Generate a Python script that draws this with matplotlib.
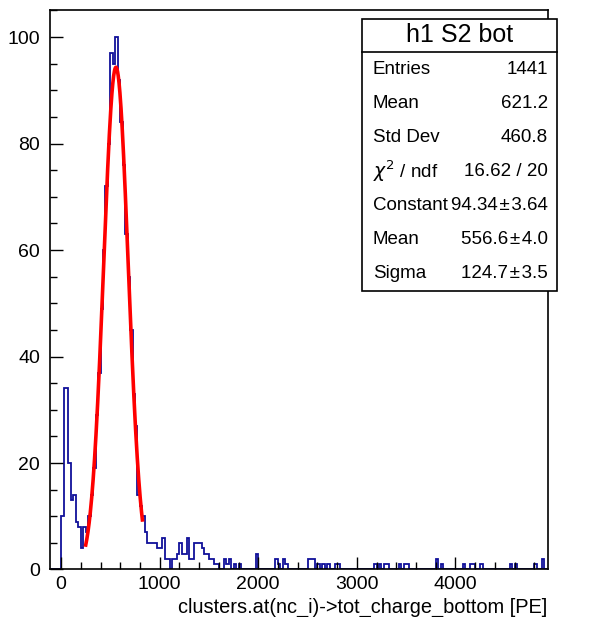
import numpy as np
import matplotlib
matplotlib.use("Agg")
import matplotlib.pyplot as plt
from matplotlib.ticker import MultipleLocator

plt.rcParams['font.family'] = ['Liberation Sans', 'DejaVu Sans']

# histogram h1: 25 PE bins, main part from 0 to 1800 PE (entries per bin)
core_start = 0
core_counts = [10, 34, 34, 20, 13, 14, 9, 8, 4, 8,        # 0 .. 225
               7, 10, 14, 19, 29, 37, 49, 60, 72, 80,     # 250 .. 475
               97, 95, 100, 92, 84, 76, 63, 55, 45, 33,   # 500 .. 725
               27, 14, 12, 10, 7, 5, 5, 5, 5, 4,          # 750 .. 975
               4, 6, 2, 2, 0, 2, 2, 3, 5, 3,              # 1000 .. 1225
               3, 6, 2, 2, 5, 5, 5, 4, 3, 3,              # 1250 .. 1475
               2, 2, 1, 1, 0, 0, 2, 1, 2, 0,              # 1500 .. 1725
               1, 0, 1]                                   # 1750 .. 1800
# sparse tail: left edge of each non-empty bin and its entries
tail_left = [1975, 2175, 2200, 2250, 2275,
             2500, 2525, 2550, 2600, 2650, 2700, 2775, 2800,
             3175, 3225, 3275, 3300, 3425, 3475, 3500,
             3800, 3850, 4075, 4150, 4175, 4250, 4550, 4600, 4800, 4875]
tail_counts = [3, 2, 1, 2, 1,
               2, 2, 2, 1, 1, 1, 1, 1,
               1, 1, 1, 1, 1, 1, 1,
               2, 1, 1, 1, 1, 1, 1, 1, 1, 2]

# gaussian fit result
fit_const = 94.34
fit_mean = 556.6
fit_sigma = 124.7
fit_range = (250, 825)

pm = "\u200a\u00b1\u200a"
stats_rows = [("Entries", "1441"), ("Mean", "621.2"), ("Std Dev", "460.8"),
              (r"$\chi^2$ / ndf", "16.62 / 20"), ("Constant", "94.34" + pm + "3.64"),
              ("Mean", "556.6" + pm + "4.0"), ("Sigma", "124.7" + pm + "3.5")]

edges = np.arange(-100, 4926, 25)
hist = np.zeros(len(edges) - 1)
for k, n in enumerate(core_counts):
    hist[(core_start + 100) // 25 + k] = n
for lo, n in zip(tail_left, tail_counts):
    hist[(lo + 100) // 25] = n

fig = plt.figure(figsize=(5.92, 6.17), dpi=100)
ax = fig.add_axes([0.084, 0.077, 0.841, 0.906])

ax.stairs(hist, edges, color='#10109a', lw=1.3)

xf = np.linspace(fit_range[0], fit_range[1], 200)
yf = fit_const * np.exp(-0.5 * ((xf - fit_mean) / fit_sigma) ** 2)
ax.plot(xf, yf, color='#ff0000', lw=2.6)

ax.set_xlim(-115, 4935)
ax.set_ylim(0, 105)
ax.xaxis.set_major_locator(MultipleLocator(1000))
ax.xaxis.set_minor_locator(MultipleLocator(200))
ax.yaxis.set_major_locator(MultipleLocator(20))
ax.yaxis.set_minor_locator(MultipleLocator(5))
ax.tick_params(which='both', direction='in', top=False, right=False,
               labelsize=14, width=1, colors='black')
ax.tick_params(which='major', length=9)
ax.tick_params(axis='x', which='major', pad=5)
ax.tick_params(axis='y', which='major', pad=7)
ax.tick_params(which='minor', length=5)
for s in ax.spines.values():
    s.set_linewidth(1.2)

ax.set_xlabel("clusters.at(nc_i)->tot_charge_bottom [PE]", fontsize=14.4, loc='right', labelpad=3)

# stats box
bx0, bx1 = 362 / 592, 557 / 592
by_top, by_title, by_bot = 1 - 19 / 617, 1 - 52 / 617, 1 - 291 / 617
fig.patches.append(plt.Rectangle((bx0, by_bot), bx1 - bx0, by_top - by_bot,
                                 transform=fig.transFigure, fc='white', ec='black', lw=1.2, zorder=5))
fig.lines.append(plt.Line2D([bx0, bx1], [by_title, by_title], transform=fig.transFigure,
                            color='black', lw=1.2, zorder=6))
fig.text((bx0 + bx1) / 2, (by_top + by_title) / 2, "h1 S2 bot", ha='center', va='center',
         fontsize=18, zorder=7)
row_h = (by_title - by_bot) / len(stats_rows)
for i, (name, val) in enumerate(stats_rows):
    yc = by_title - (i + 0.5) * row_h
    fig.text(373 / 592, yc, name, ha='left', va='center', fontsize=13.5, zorder=7)
    fig.text(548 / 592, yc, val, ha='right', va='center', fontsize=13.5, zorder=7)

fig.savefig("out.png", dpi=100)
